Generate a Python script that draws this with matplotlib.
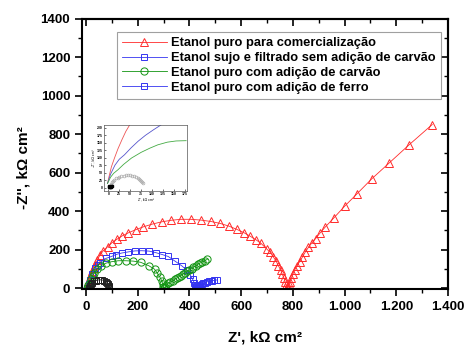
import matplotlib
matplotlib.use('Agg')
import matplotlib.pyplot as plt
from matplotlib.ticker import MultipleLocator, FuncFormatter
from matplotlib.lines import Line2D

plt.rcParams['font.family'] = ['Liberation Sans', 'DejaVu Sans']
plt.rcParams['font.weight'] = 'bold'

labels = ['Etanol puro para comercialização',
          'Etanol sujo e filtrado sem adição de carvão',
          'Etanol puro com adição de carvão',
          'Etanol puro com adição de ferro']

# Etanol puro para comercializacao (triangles)
red_x = [3, 4, 5, 7, 9, 12, 15, 19, 24, 29, 35, 44, 54, 67, 84, 100, 119, 140, 164, 192,
         222, 256, 293, 330, 367, 405, 444, 482, 518, 552, 583, 610, 634, 657, 677, 699,
         712, 724, 735, 744, 753, 759, 766, 770, 773, 776, 778, 780, 782, 785, 789, 794,
         800, 807, 816, 826, 837, 848, 860, 873, 888, 904, 924, 959, 1001, 1047, 1105,
         1173, 1249, 1339]
red_y = [0, 3, 8, 18, 30, 45, 60, 75, 91, 106, 121, 147, 173, 195, 216, 236, 254, 272, 288, 304,
         319, 333, 345, 353, 358, 358, 354, 347, 337, 323, 306, 289, 271, 252, 233, 204,
         187, 164, 142, 117, 95, 73, 52, 34, 17, 6, 2, 4, 10, 20, 34, 52,
         73, 95, 117, 138, 162, 188, 212, 235, 258, 285, 316, 366, 427, 489, 568,
         651, 744, 850]

# Etanol sujo e filtrado (squares, blue)
blue_x = [5, 10, 17, 25, 35, 45, 54, 77, 100, 115, 138, 164, 189, 215, 244, 270, 295, 318,
          344, 370, 389, 402, 412, 419, 423, 425, 427, 429, 431, 433, 435, 437, 439, 441,
          447, 454, 461, 469, 477, 486, 495, 505]
blue_y = [2, 20, 45, 75, 105, 122, 133, 155, 166, 175, 183, 189, 194, 195, 193, 185, 175, 165,
          141, 117, 95, 71, 48, 27, 18, 12, 7, 4, 3, 3, 5, 8, 12, 17,
          22, 26, 30, 34, 37, 39, 41, 43]

# Etanol puro com carvao (circles, green)
green_x = [5, 9, 14, 20, 26, 31, 41, 57, 76, 99, 125, 153, 183, 211, 243, 265, 276, 286,
           293, 297, 299, 301, 303, 306, 310, 318, 326, 335, 343, 350, 358, 366, 375,
           383, 392, 400, 408, 415, 424, 432, 441, 450, 459, 469]
green_y = [2, 15, 30, 48, 65, 78, 98, 116, 130, 138, 143, 143, 141, 135, 117, 99, 78, 57,
           38, 20, 8, 3, 4, 8, 15, 26, 33, 39, 46, 52, 58, 65, 73,
           81, 88, 95, 102, 109, 117, 124, 131, 138, 144, 150]

# Etanol puro com ferro (squares, black)
black_x = [12, 15, 19, 24, 30, 38, 46, 55, 63, 71, 77, 82, 85, 87, 88, 89]
black_y = [2, 12, 22, 30, 36, 40, 43, 44, 43, 40, 35, 28, 20, 12, 5, 2]

# inset curves
in_red_x = [-2, 2, 7, 14, 22, 31, 40, 49]
in_red_y = [14, 40, 70, 99, 130, 160, 188, 210]
in_blue_x = [-2, 5, 15, 25, 37, 52, 68, 85, 103, 121]
in_blue_y = [14, 45, 75, 95, 110, 133, 155, 175, 193, 210]
in_green_x = [-2, 5, 12, 22, 35, 53, 75, 95, 113, 135, 155, 178]
in_green_y = [14, 35, 48, 60, 78, 99, 118, 132, 143, 152, 156, 157]
in_gray_x = [5, 8, 10, 13, 17, 21, 25, 30, 35, 40, 45, 50, 55, 59, 63, 67, 70, 73, 75, 77, 79]
in_gray_y = [12, 18, 22, 27, 31, 34, 37, 39, 40, 41, 41, 41, 40, 38, 36, 33, 30, 27, 24, 20, 16]
in_black_x = [1, 2, 3, 4, 5, 6, 7, 8]
in_black_y = [6, 4, 3, 3, 4, 5, 6, 5]

c_red = '#ff2a2a'
c_blue = '#3434f0'
c_green = '#129412'

fig = plt.figure(figsize=(4.67, 3.47), dpi=100)
ax = fig.add_axes([0.1756, 0.167, 0.7837, 0.7795])

ax.plot(red_x, red_y, color=c_red, lw=0.6, marker='^', ms=5.5, mfc='none', mec=c_red, mew=0.7, label=labels[0])
ax.plot(blue_x, blue_y, color=c_blue, lw=0.6, marker='s', ms=4.8, mfc='none', mec=c_blue, mew=0.7, label=labels[1])
ax.plot(green_x, green_y, color=c_green, lw=0.6, marker='o', ms=5.2, mfc='none', mec=c_green, mew=0.7, label=labels[2])
ax.plot(black_x, black_y, color='#222222', lw=0.6, marker='s', ms=4.5, mfc='none', mec='#222222', mew=0.7)

ax.set_xlim(-15.5, 1400)
ax.set_ylim(-4, 1400)
ax.xaxis.set_major_locator(MultipleLocator(200))
ax.xaxis.set_minor_locator(MultipleLocator(100))
ax.yaxis.set_major_locator(MultipleLocator(200))
ax.yaxis.set_minor_locator(MultipleLocator(100))
ax.xaxis.set_major_formatter(FuncFormatter(lambda v, p: f"{int(v):,}".replace(',', '.')))
ax.tick_params(which='major', direction='out', length=5, width=1.2, labelsize=9.5)
ax.tick_params(which='minor', direction='out', length=3, width=1.0)
for lab in ax.get_xticklabels() + ax.get_yticklabels():
    lab.set_fontweight('bold')
for sp in ax.spines.values():
    sp.set_linewidth(1.5)

# mirrored ticks pointing inward on top and right
top = ax.secondary_xaxis('top')
top.xaxis.set_major_locator(MultipleLocator(200))
top.xaxis.set_minor_locator(MultipleLocator(100))
top.tick_params(which='major', direction='in', length=5, width=1.2, labeltop=False)
top.tick_params(which='minor', direction='in', length=3, width=1.0)
right = ax.secondary_yaxis('right')
right.yaxis.set_major_locator(MultipleLocator(200))
right.yaxis.set_minor_locator(MultipleLocator(100))
right.tick_params(which='major', direction='in', length=5, width=1.2, labelright=False)
right.tick_params(which='minor', direction='in', length=3, width=1.0)
top.spines['top'].set_linewidth(1.5)
right.spines['right'].set_linewidth(1.5)

ax.set_xlabel("Z', kΩ cm²", fontsize=11, fontweight='bold')
ax.set_ylabel("-Z'', kΩ cm²", fontsize=11, fontweight='bold')
ax.xaxis.set_label_coords(0.5, -0.155)
ax.yaxis.set_label_coords(-0.142, 0.45)

handles, _ = ax.get_legend_handles_labels()
handles.append(Line2D([], [], color=c_blue, lw=0.6, marker='s', ms=4.8, mfc='none', mec=c_blue, mew=0.7))
leg = ax.legend(handles, labels, loc='upper right', bbox_to_anchor=(0.981, 0.950), borderaxespad=0,
                fancybox=False, edgecolor='#888888', handlelength=3.5,
                labelspacing=0.22, borderpad=0.4, handletextpad=0.35,
                prop={'weight': 'bold', 'size': 9.25})
leg.get_frame().set_linewidth(0.8)

# inset
ins = fig.add_axes([0.2227, 0.4504, 0.1777, 0.190])
ins.plot(in_red_x, in_red_y, color='#ee5555', lw=0.6)
ins.plot(in_blue_x, in_blue_y, color='#5555cc', lw=0.6)
ins.plot(in_green_x, in_green_y, color='#44aa44', lw=0.6)
ins.plot(in_gray_x, in_gray_y, color='#aaaaaa', lw=0, marker='o', ms=2, mfc='none', mec='#aaaaaa', mew=0.5)
ins.plot(in_black_x, in_black_y, color='black', lw=0, marker='s', ms=2, mfc='black', mec='black')
ins.set_xlim(-10, 180)
ins.set_ylim(-10, 210)
ins.xaxis.set_major_locator(MultipleLocator(25))
ins.yaxis.set_major_locator(MultipleLocator(25))
ins.tick_params(direction='in', length=1.5, width=0.4, labelsize=2.5, pad=1)
for sp in ins.spines.values():
    sp.set_linewidth(0.5)
    sp.set_color('#555555')
ins.set_xlabel("Z', kΩ cm²", fontsize=2.5, labelpad=1)
ins.set_ylabel("-Z'', kΩ cm²", fontsize=2.5, labelpad=1)

fig.savefig('out.png', dpi=100)
